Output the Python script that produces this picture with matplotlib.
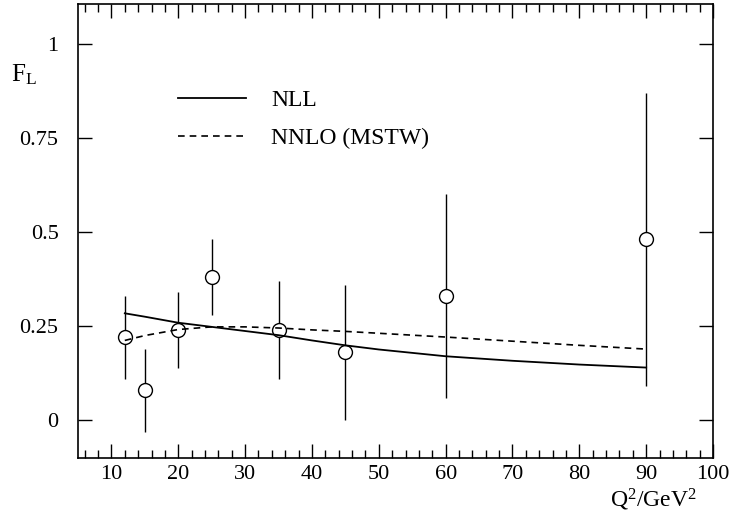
"""
F_L versus Q^2: data points with NLL and NNLO (MSTW) curves.
"""

import numpy as np
import matplotlib
matplotlib.use('Agg')
import matplotlib.pyplot as plt
from matplotlib.ticker import MultipleLocator, FixedLocator, FixedFormatter

plt.rcParams['font.family'] = ['Liberation Serif', 'DejaVu Serif']
plt.rcParams['mathtext.fontset'] = 'custom'
plt.rcParams['mathtext.rm'] = 'Liberation Serif'
plt.rcParams['mathtext.it'] = 'Liberation Serif:italic'

# data points
q2 = [12, 15, 20, 25, 35, 45, 60, 90]
fl = [0.22, 0.08, 0.24, 0.38, 0.24, 0.18, 0.33, 0.48]
fl_lo = [0.11, -0.03, 0.14, 0.28, 0.11, 0.0, 0.06, 0.09]
fl_hi = [0.33, 0.19, 0.34, 0.48, 0.37, 0.36, 0.60, 0.87]

# theory curves
q2_curve = [12, 15, 20, 25, 30, 35, 40, 45, 50, 60, 70, 80, 90]
nll = [0.284, 0.275, 0.259, 0.248, 0.237, 0.226, 0.212, 0.199, 0.188,
       0.170, 0.158, 0.148, 0.140]
nnlo = [0.212, 0.225, 0.241, 0.248, 0.248, 0.245, 0.240, 0.236, 0.231,
        0.221, 0.210, 0.199, 0.189]

yticks = [0, 0.25, 0.5, 0.75, 1]
ytick_labels = ['0', '0.25', '0.5', '0.75', '1']

fig = plt.figure(figsize=(7.31, 5.23), dpi=100)
ax = fig.add_axes([0.1067, 0.1243, 0.8687, 0.8681])

err = [np.array(fl) - np.array(fl_lo), np.array(fl_hi) - np.array(fl)]
ax.errorbar(q2, fl, yerr=err, fmt='o', color='black', mfc='white', mec='black',
            ms=10, mew=1.0, elinewidth=1.0, capsize=0, zorder=2)

ax.plot(q2_curve, nll, color='black', lw=1.3, label='NLL', zorder=3)
ax.plot(q2_curve, nnlo, color='black', lw=1.2, dashes=(4, 3),
        label='NNLO (MSTW)', zorder=3)

ax.set_xlim(5, 100)
ax.set_ylim(-0.1, 1.105)

ax.xaxis.set_major_locator(MultipleLocator(10))
ax.xaxis.set_minor_locator(MultipleLocator(2))
ax.yaxis.set_major_locator(FixedLocator(yticks))
ax.yaxis.set_major_formatter(FixedFormatter(ytick_labels))

ax.tick_params(axis='both', which='both', direction='in', top=True, right=True,
               width=1.0, labelsize=16)
ax.tick_params(axis='both', which='major', length=10)
ax.tick_params(axis='x', which='minor', length=6)
ax.tick_params(axis='x', which='major', pad=5)
ax.tick_params(axis='y', which='major', pad=14)
for s in ax.spines.values():
    s.set_linewidth(1.2)

ax.text(-0.105, 0.845, 'F$_\\mathrm{L}$', transform=ax.transAxes, fontsize=18,
        ha='left', va='center')
ax.text(0.975, -0.108, 'Q$^2$/GeV$^2$', transform=ax.transAxes, fontsize=17,
        ha='right', va='baseline')

ax.legend(loc='upper left', bbox_to_anchor=(0.1575, 0.812), frameon=False,
          fontsize=17, handlelength=2.9, handletextpad=1.05, borderpad=0,
          borderaxespad=0, labelspacing=0.72)

fig.savefig('out.png', dpi=100)
